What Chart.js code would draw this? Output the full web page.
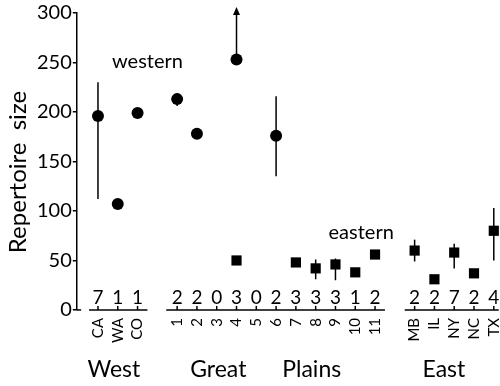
<!DOCTYPE html>
<html>
<head>
<meta charset="utf-8">
<script src="https://cdn.jsdelivr.net/npm/chart.js@4/dist/chart.umd.min.js"></script>
<style>
  html, body { margin: 0; padding: 0; background: #fff; }
  #wrap { width: 500px; height: 386px; }
</style>
</head>
<body>
<div id="wrap"><canvas id="songChart"></canvas></div>
<script>
// sites along the x axis (gaps at 3 and 15 separate the regions)
const sitePositions = [0, 1, 2, 4, 5, 6, 7, 8, 9, 10, 11, 12, 13, 14, 16, 17, 18, 19, 20];
const siteLabels = ['CA', 'WA', 'CO', '1', '2', '3', '4', '5', '6', '7', '8', '9', '10', '11', 'MB', 'IL', 'NY', 'NC', 'TX'];
const sampleSizes = [7, 1, 1, 2, 2, 0, 3, 0, 2, 3, 3, 3, 1, 2, 2, 2, 7, 2, 4];

// western song type (circles)
const westernSites = ['CA', 'WA', 'CO', '1', '2', '4', '6'];
const westernValues = [196, 107, 199, 213, 178, 253, 176];
const westernLow = [112, null, null, 206, null, null, 135];
const westernHigh = [230, null, null, 219, null, null, 216];
const arrowSite = '4';
const arrowTop = 306;

// eastern song type (squares)
const easternSites = ['4', '7', '8', '9', '10', '11', 'MB', 'IL', 'NY', 'NC', 'TX'];
const easternValues = [50, 48, 42, 46, 38, 56, 60, 31, 58, 37, 80];
const easternLow = [null, null, 31, 30, null, null, 49, null, 42, null, 50];
const easternHigh = [null, null, 51, 52, null, null, 71, null, 67, null, 103];

const regionNames = ['West', 'Great', 'Plains', 'East'];
const regionCenters = [0.8, 6.08, 10.8, 17.48];
const axisSegments = [[-1.07, -0.85], [-0.45, 2.5], [3.45, 14.5], [15.5, 20.25]];

const posOf = s => sitePositions[siteLabels.indexOf(s)];
const FONT = 'Lato, "DejaVu Sans", sans-serif';

const annotate = {
    id: 'annotate',
    afterDraw(chart) {
        const ctx = chart.ctx;
        const x = chart.scales.x, y = chart.scales.y;
        ctx.save();
        ctx.strokeStyle = '#000';
        ctx.fillStyle = '#000';

        // broken x axis with small upward ticks
        ctx.lineWidth = 1.5;
        const y0 = y.getPixelForValue(0);
        axisSegments.forEach(seg => {
            ctx.beginPath();
            ctx.moveTo(x.getPixelForValue(seg[0]), y0);
            ctx.lineTo(x.getPixelForValue(seg[1]), y0);
            ctx.stroke();
        });
        sitePositions.forEach(p => {
            const px = x.getPixelForValue(p);
            ctx.beginPath();
            ctx.moveTo(px, y0);
            ctx.lineTo(px, y0 - 4);
            ctx.stroke();
        });

        // error bars
        const bars = (sites, low, high) => sites.forEach((s, i) => {
            if (low[i] == null) return;
            const px = x.getPixelForValue(posOf(s));
            ctx.beginPath();
            ctx.moveTo(px, y.getPixelForValue(low[i]));
            ctx.lineTo(px, y.getPixelForValue(high[i]));
            ctx.stroke();
        });
        bars(westernSites, westernLow, westernHigh);
        bars(easternSites, easternLow, easternHigh);

        // open-ended upper range
        const ax = x.getPixelForValue(posOf(arrowSite));
        const ai = westernSites.indexOf(arrowSite);
        const aTop = y.getPixelForValue(arrowTop);
        ctx.beginPath();
        ctx.moveTo(ax, y.getPixelForValue(westernValues[ai]));
        ctx.lineTo(ax, aTop + 4);
        ctx.stroke();
        ctx.beginPath();
        ctx.moveTo(ax, aTop);
        ctx.lineTo(ax - 3.5, aTop + 8);
        ctx.lineTo(ax + 3.5, aTop + 8);
        ctx.closePath();
        ctx.fill();

        // sample sizes
        ctx.font = '19px ' + FONT;
        ctx.textAlign = 'center';
        ctx.textBaseline = 'middle';
        sampleSizes.forEach((n, i) => {
            ctx.fillText(String(n), x.getPixelForValue(sitePositions[i]), y.getPixelForValue(12.5));
        });

        // series labels
        ctx.font = '20px ' + FONT;
        ctx.fillText('western', x.getPixelForValue(2.5), y.getPixelForValue(251));
        ctx.fillText('eastern', x.getPixelForValue(13.3), y.getPixelForValue(78));

        // region labels
        ctx.font = '23px ' + FONT;
        regionNames.forEach((r, i) => {
            ctx.fillText(r, x.getPixelForValue(regionCenters[i]), 370);
        });

        // y title
        ctx.translate(18, 172);
        ctx.rotate(-Math.PI / 2);
        ctx.font = '24px ' + FONT;
        ctx.fillText('Repertoire  size', 0, 0);
        ctx.restore();
    }
};

new Chart(document.getElementById('songChart').getContext('2d'), {
    type: 'scatter',
    data: {
        datasets: [{
            label: 'western',
            data: westernSites.map((s, i) => ({ x: posOf(s), y: westernValues[i] })),
            pointStyle: 'circle',
            pointRadius: 6,
            backgroundColor: '#000',
            borderColor: '#000',
            borderWidth: 0,
            clip: false
        }, {
            label: 'eastern',
            data: easternSites.map((s, i) => ({ x: posOf(s), y: easternValues[i] })),
            pointStyle: 'rect',
            pointRadius: 7.2,
            backgroundColor: '#000',
            borderColor: '#000',
            borderWidth: 0,
            clip: false
        }]
    },
    options: {
        responsive: true,
        maintainAspectRatio: false,
        animation: false,
        layout: { padding: { left: 36, right: 0, top: 10, bottom: 43 } },
        plugins: {
            legend: { display: false },
            tooltip: { enabled: false }
        },
        scales: {
            x: {
                type: 'linear',
                min: -1.07,
                max: 19.95,
                grid: { display: false },
                border: { display: false },
                afterBuildTicks: axis => { axis.ticks = sitePositions.map(v => ({ value: v })); },
                afterFit: axis => { axis.paddingLeft = 0; axis.paddingRight = 0; },
                ticks: {
                    autoSkip: false,
                    minRotation: 90,
                    maxRotation: 90,
                    padding: 0,
                    color: '#000',
                    font: { family: FONT, size: 15 },
                    callback: v => siteLabels[sitePositions.indexOf(v)] || ''
                }
            },
            y: {
                min: 0,
                max: 300,
                grid: { drawOnChartArea: false, tickLength: 4, color: '#000', lineWidth: 1.5 },
                border: { color: '#000', width: 1.5 },
                ticks: {
                    stepSize: 50,
                    padding: 1,
                    color: '#000',
                    font: { family: FONT, size: 20 }
                }
            }
        }
    },
    plugins: [annotate]
});
</script>
</body>
</html>
